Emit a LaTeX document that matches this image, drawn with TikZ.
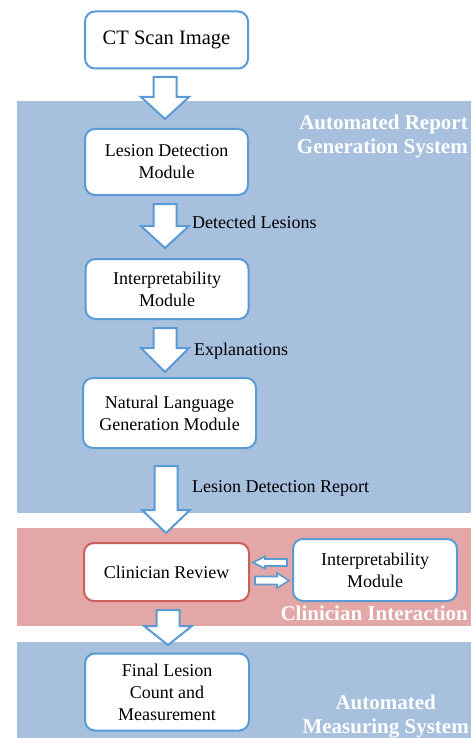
\documentclass[tikz,border=0pt]{standalone}
\usepackage{fontspec}
\setmainfont{Liberation Serif}
\usepackage{tikz}
\usetikzlibrary{positioning, calc}
\definecolor{box_blue}{HTML}{5B9BD5}
\definecolor{box_red}{HTML}{C8605B}
\definecolor{band_blue}{HTML}{A7C0DE}
\definecolor{band_red}{HTML}{E2A7A6}
\tikzset{
  module/.style={rectangle,rounded corners=10pt,draw=box_blue,line width=2pt,fill=white,align=center,font=\fontsize{18}{22}\selectfont,inner sep=2pt},
  module_w/.style={module,minimum width=163pt},
  review/.style={module_w,draw=box_red},
  bandtitle/.style={text=white,font=\bfseries\fontsize{21}{24}\selectfont,inner sep=0pt},
  flowlabel/.style={font=\fontsize{18}{21}\selectfont,inner sep=0pt,anchor=west},
  blockarrow/.style={draw=box_blue,line width=2pt,fill=white,line join=miter},
}
% down block arrow: centre x, top, neck, tip
\newcommand{\downblock}[4]{%
  \draw[blockarrow] (#1-11.5,#2) -- (#1+11.5,#2) -- (#1+11.5,#3) -- (#1+24,#3)
    -- (#1,#4) -- (#1-24,#3) -- (#1-11.5,#3) -- cycle;}
% side block arrow: tip x, neck x, tail x, centre y, shaft half, head half
\newcommand{\sideblock}[6]{%
  \draw[blockarrow,line width=1.6pt] (#3,#4-#5) -- (#2,#4-#5) -- (#2,#4-#6) -- (#1,#4)
    -- (#2,#4+#6) -- (#2,#4+#5) -- (#3,#4+#5) -- cycle;}

\begin{document}
\begin{tikzpicture}[x=1pt,y=-1pt]
  \useasboundingbox (0,0) rectangle (471,738);
  \fill[band_blue] (17,101) rectangle (471,513);
  \fill[band_red] (17,528) rectangle (471,626);
  \fill[band_blue] (17,642) rectangle (471,738);

  \node[module_w,minimum height=57pt,font=\fontsize{20.5}{24}\selectfont] (ct) at (166.5,40) {CT Scan Image};
  \node[module_w,minimum height=66pt] (detect) at (166.5,162) {Lesion Detection\\Module};
  \node[module_w,minimum height=60pt] (interp) at (167,289) {Interpretability\\Module};
  \node[module,minimum width=173pt,minimum height=70pt] (nlg) at (169.5,413) {Natural Language\\Generation Module};
  \node[review,minimum width=165pt,minimum height=58pt] (review) at (166.5,572) {Clinician Review};
  \node[module_w,minimum width=164pt,minimum height=62pt] (interp2) at (375,570) {Interpretability\\Module};
  \node[module_w,minimum width=164pt,minimum height=77pt] (final) at (167,692) {Final Lesion\\Count and\\Measurement};

  \downblock{165}{77}{97}{119}
  \downblock{165}{204}{226}{248}
  \downblock{165}{328}{348}{372}
  \downblock{166}{466}{510}{533}
  \downblock{168}{610}{626}{645}
  \sideblock{253}{265}{287}{562.5}{3.5}{6}
  \sideblock{289}{277}{255}{580.5}{4}{7.5}

  \node[flowlabel] (lbl_lesions) at (192,222) {Detected Lesions};
  \node[flowlabel] (lbl_expl) at (194,351) {Explanations};
  \node[flowlabel] (lbl_report) at (192,488) {Lesion Detection Report};

  \node[bandtitle,align=right,anchor=north east] (t_report) at (468,115) {Automated Report\\Generation System};
  \node[bandtitle,anchor=east] (t_clin) at (468,613) {Clinician Interaction};
  \node[bandtitle,align=center,anchor=south east] (t_meas) at (469,738) {Automated\\Measuring System};
\end{tikzpicture}
\end{document}
